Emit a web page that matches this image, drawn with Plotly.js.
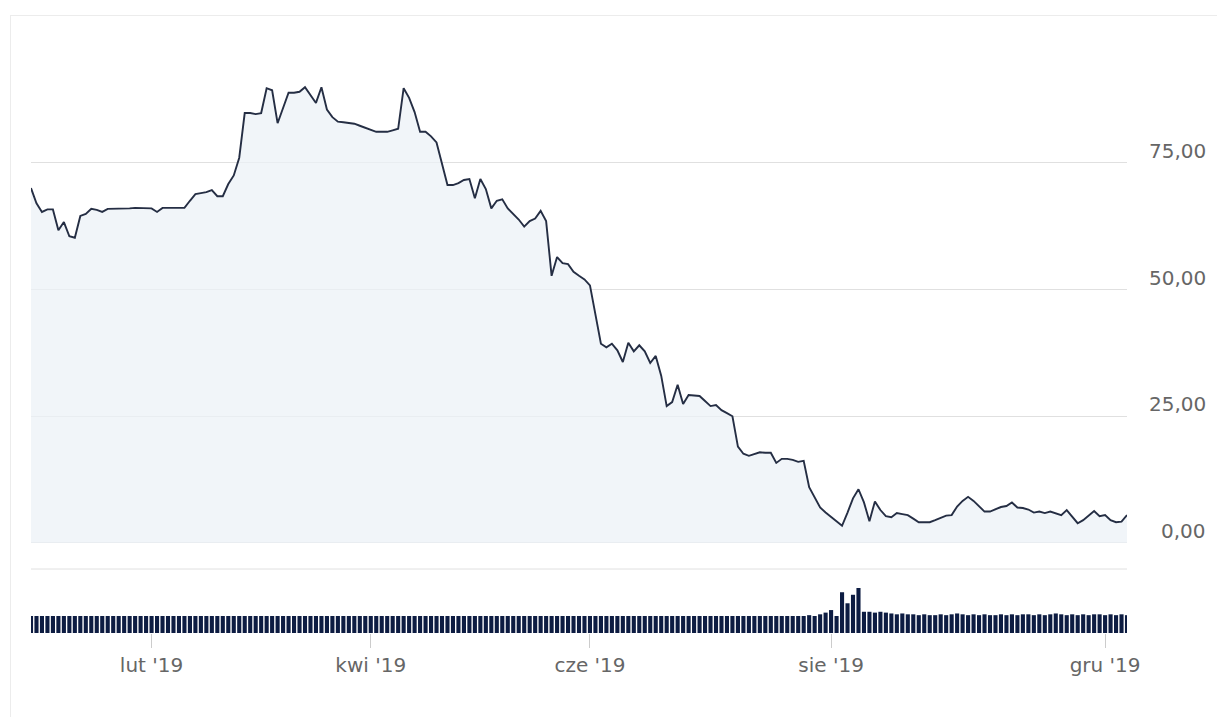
<!DOCTYPE html>
<html>
<head>
<meta charset="utf-8">
<script src="https://cdn.plot.ly/plotly-3.0.1.min.js"></script>
<style>
  html, body { margin: 0; padding: 0; background: #ffffff; overflow: hidden; }
  #frame { position: absolute; left: 10px; top: 15px; width: 1300px; height: 800px; border: 1px solid #ececec; }
  #chart { position: absolute; left: 0; top: 0; width: 1217px; height: 717px; }
</style>
</head>
<body>
<div id="frame"></div>
<div id="chart"></div>
<script>
// Closing prices, one per trading session (ordinal axis)
const price = [
  70.0, 67.0, 65.3, 65.8, 65.8, 61.7, 63.3, 60.5, 60.2, 64.5,
  64.9, 65.9, 65.7, 65.3, 65.9, 65.9, 66.0, 66.0, 66.0, 66.1,
  66.1, 66.0, 66.0, 65.3, 66.1, 66.1, 66.1, 66.1, 66.1, 67.5,
  68.8, 69.0, 69.2, 69.6, 68.4, 68.4, 70.8, 72.5, 76.0, 84.8,
  84.8, 84.6, 84.8, 89.7, 89.3, 82.8, 86.0, 88.8, 88.8, 89.0,
  89.9, 88.4, 86.8, 89.9, 85.5, 84.0, 83.1, 83.0, 82.8, 82.7,
  82.3, 81.9, 81.5, 81.1, 81.1, 81.1, 81.4, 81.7, 89.7, 87.8,
  85.0, 81.1, 81.1, 80.2, 79.0, 75.0, 70.6, 70.6, 71.0, 71.6,
  71.8, 68.0, 71.8, 69.8, 66.0, 67.5, 67.8, 66.0, 65.0, 63.8,
  62.4, 63.5, 64.0, 65.5, 63.5, 52.7, 56.4, 55.2, 55.0, 53.5,
  52.7, 52.0, 50.8, 45.0, 39.3, 38.6, 39.3, 38.0, 35.7, 39.5,
  37.8, 39.0, 37.8, 35.5, 36.9, 33.0, 27.0, 27.8, 31.2, 27.4,
  29.2, 29.1, 29.0, 28.0, 27.0, 27.2, 26.2, 25.6, 25.0, 19.0,
  17.6, 17.2, 17.6, 17.9, 17.8, 17.8, 15.8, 16.6, 16.6, 16.4,
  16.0, 16.2, 11.0, 9.0, 7.0, 6.0, 5.1, 4.2, 3.4, 6.0,
  8.8, 10.6, 8.0, 4.3, 8.2, 6.5, 5.3, 5.1, 5.9, 5.7,
  5.5, 4.8, 4.1, 4.1, 4.1, 4.5, 5.0, 5.4, 5.5, 7.2,
  8.3, 9.1, 8.3, 7.2, 6.2, 6.2, 6.6, 7.1, 7.3, 8.0,
  7.0, 6.9, 6.6, 6.0, 6.2, 5.9, 6.2, 5.9, 5.5, 6.5,
  5.2, 3.9, 4.5, 5.4, 6.3, 5.3, 5.5, 4.5, 4.1, 4.2,
  5.5
];

// Volume per session (relative units)
const volume = [
  100, 100, 100, 100, 100, 100, 100, 100, 100, 100,
  100, 100, 100, 100, 100, 100, 100, 100, 100, 100,
  100, 100, 100, 100, 100, 100, 100, 100, 100, 100,
  100, 100, 100, 100, 100, 100, 100, 100, 100, 100,
  100, 100, 100, 100, 100, 100, 100, 100, 100, 100,
  100, 100, 100, 100, 100, 100, 100, 100, 100, 100,
  100, 100, 100, 100, 100, 100, 100, 100, 100, 100,
  100, 100, 100, 100, 100, 100, 100, 100, 100, 100,
  100, 100, 100, 100, 100, 100, 100, 100, 100, 100,
  100, 100, 100, 100, 100, 100, 100, 100, 100, 100,
  100, 100, 100, 100, 100, 100, 100, 100, 100, 100,
  100, 100, 100, 100, 100, 100, 100, 100, 100, 100,
  100, 100, 100, 100, 100, 100, 100, 100, 100, 100,
  100, 100, 100, 100, 100, 100, 100, 100, 100, 100,
  100, 100, 105, 100, 110, 120, 135, 100, 240, 175,
  225, 265, 125, 125, 120, 125, 120, 115, 110, 115,
  110, 110, 105, 110, 105, 105, 110, 105, 110, 115,
  110, 105, 110, 105, 110, 105, 105, 110, 105, 110,
  105, 110, 110, 105, 110, 105, 110, 115, 110, 105,
  110, 105, 110, 105, 110, 110, 105, 110, 105, 110,
  105
];

// Month tick labels and the session index where each month begins
const tickLabels = ["lut '19", "kwi '19", "cze '19", "sie '19", "gru '19"];
const tickIdx = [22, 62, 102, 146, 196];

// Price axis tick values
const priceTicks = [0, 25, 50, 75, 100];
const priceTickLabels = ["0,00", "25,00", "50,00", "75,00"];

const idx = price.map((_, i) => i);

const traces = [
  {
    type: 'scatter', mode: 'lines', x: idx, y: price,
    xaxis: 'x', yaxis: 'y',
    line: { color: '#252e44', width: 1.9 },
    fill: 'tozeroy', fillcolor: 'rgba(236,241,247,0.75)',
    hoverinfo: 'skip'
  },
  {
    type: 'bar', x: idx, y: volume,
    xaxis: 'x', yaxis: 'y2',
    marker: { color: '#0d1c42', line: { width: 0 } },
    hoverinfo: 'skip'
  }
];

const labelFont = { family: 'DejaVu Sans, Verdana, sans-serif', size: 20, color: '#666666' };

const annotations = priceTickLabels.map((t, k) => ({
  text: t, xref: 'paper', x: 1.074, xanchor: 'right',
  yref: 'y', y: priceTicks[k], yanchor: 'middle', yshift: 12,
  showarrow: false, font: labelFont
}));

const layout = {
  width: 1217, height: 717,
  margin: { l: 31, r: 90, t: 36, b: 84 },
  paper_bgcolor: 'rgba(0,0,0,0)', plot_bgcolor: 'rgba(0,0,0,0)',
  showlegend: false,
  bargap: 0.25,
  xaxis: {
    range: [0, price.length - 1], anchor: 'y2',
    tickmode: 'array', tickvals: tickIdx, ticktext: tickLabels,
    ticks: 'outside', ticklen: 14, tickcolor: '#cccccc', tickwidth: 1,
    showgrid: false, zeroline: false, showline: false,
    tickfont: labelFont
  },
  yaxis: {
    domain: [0.1072, 1], range: [-5.13, 100],
    tickmode: 'array', tickvals: priceTicks,
    showticklabels: false, ticks: '',
    showgrid: true, gridcolor: '#e0e0e0', gridwidth: 1,
    zeroline: false, showline: false
  },
  yaxis2: {
    domain: [0, 0.0754], range: [0, 265],
    showticklabels: false, showgrid: false, zeroline: false, showline: false, ticks: ''
  },
  shapes: [
    { type: 'line', xref: 'x domain', x0: 0, x1: 1, yref: 'y domain', y0: 0, y1: 0,
      line: { color: '#e0e0e0', width: 1 } }
  ],
  annotations: annotations
};

Plotly.newPlot('chart', traces, layout, { staticPlot: true, displayModeBar: false });
</script>
</body>
</html>
